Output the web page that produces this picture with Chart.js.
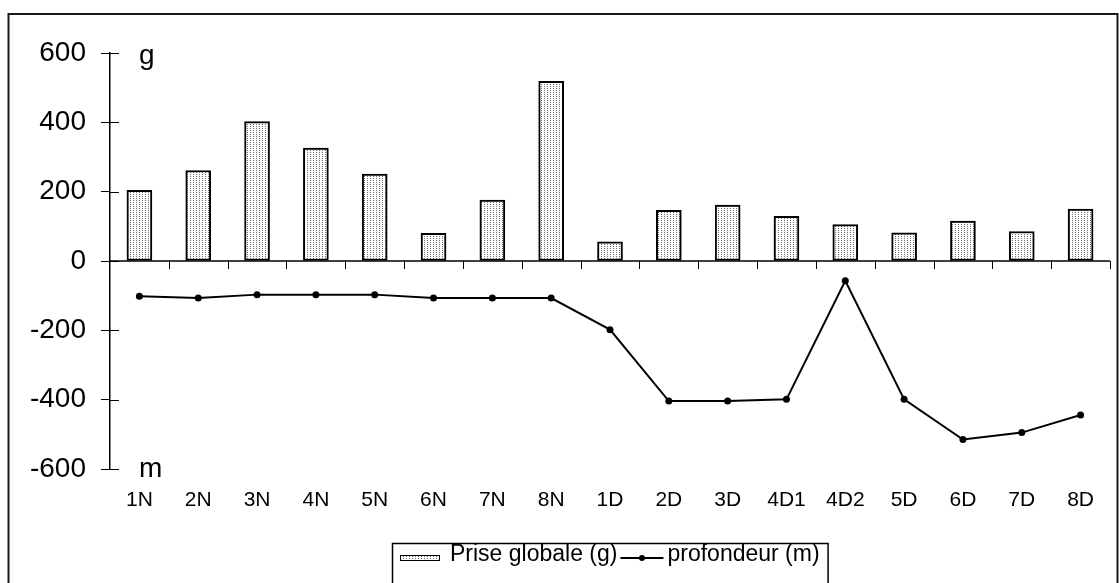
<!DOCTYPE html>
<html>
<head>
<meta charset="utf-8">
<script src="https://cdn.jsdelivr.net/npm/chart.js@4.4.0/dist/chart.umd.min.js"></script>
<style>
  html, body { margin: 0; padding: 0; background: #fff; }
</style>
</head>
<body>
<canvas id="chart" width="1119" height="583"></canvas>
<script>
const stations = ['1N', '2N', '3N', '4N', '5N', '6N', '7N', '8N', '1D', '2D', '3D', '4D1', '4D2', '5D', '6D', '7D', '8D'];
const priseGlobale = [204, 261, 402, 326, 251, 80, 176, 518, 55, 146, 161, 129, 105, 81, 115, 85, 150];
const profondeur = [-102, -107, -97, -97, -97, -107, -107, -107, -198, -404, -404, -399, -57, -399, -515, -495, -444];
const yTicks = [-600, -400, -200, 0, 200, 400, 600];

const canvas = document.getElementById('chart');
const ctx = canvas.getContext('2d');
const FONT = "'Liberation Sans', Arial, sans-serif";

// light dotted fill like the old spreadsheet pattern
function dotPattern() {
  const tile = document.createElement('canvas');
  tile.width = 3;
  tile.height = 2;
  const t = tile.getContext('2d');
  t.fillStyle = '#fff';
  t.fillRect(0, 0, 3, 2);
  t.fillStyle = '#6e6e6e';
  t.fillRect(1, 0, 1, 1);
  return ctx.createPattern(tile, 'repeat');
}
const pattern = dotPattern();

const framePlugin = {
  id: 'frame',
  beforeDraw(chart) {
    const c = chart.ctx;
    c.save();
    c.fillStyle = '#fff';
    c.fillRect(0, 0, chart.width, chart.height);
    c.strokeStyle = '#1a1a1a';
    c.lineWidth = 2;
    c.strokeRect(8.5, 14, chart.width - 10, chart.height + 20);
    c.restore();
  }
};

const axesPlugin = {
  id: 'axesMarks',
  beforeDatasetsDraw(chart) {
    const c = chart.ctx;
    const x = chart.scales.x;
    const y = chart.scales.y;
    const area = chart.chartArea;
    const y0 = y.getPixelForValue(0);
    const step = x.getPixelForValue(1) - x.getPixelForValue(0);
    c.save();
    c.strokeStyle = '#000';
    c.lineWidth = 1.5;
    // zero line
    c.beginPath();
    c.moveTo(area.left, y0);
    c.lineTo(area.right, y0);
    c.stroke();
    // category ticks under the zero line
    c.lineWidth = 1;
    for (let i = 0; i < stations.length; i++) {
      const px = Math.round(x.getPixelForValue(i) + step / 2) + 0.5;
      c.beginPath();
      c.moveTo(px, y0);
      c.lineTo(px, y0 + 8);
      c.stroke();
    }
    // inner half of the y ticks
    yTicks.forEach(v => {
      const py = Math.round(y.getPixelForValue(v)) + 0.5;
      c.beginPath();
      c.moveTo(area.left, py);
      c.lineTo(area.left + 9, py);
      c.stroke();
    });
    c.restore();
  },
  afterDraw(chart) {
    const c = chart.ctx;
    const y = chart.scales.y;
    const area = chart.chartArea;
    c.save();
    c.fillStyle = '#000';
    c.font = '28px ' + FONT;
    c.textBaseline = 'alphabetic';
    c.fillText('g', area.left + 29, y.getPixelForValue(600) + 11);
    c.fillText('m', area.left + 29, y.getPixelForValue(-600) + 8);
    c.restore();
  }
};

const legendPlugin = {
  id: 'boxLegend',
  afterDraw(chart) {
    const c = chart.ctx;
    const barSet = chart.data.datasets.find(d => d.type === 'bar');
    const lineSet = chart.data.datasets.find(d => d.type === 'line');
    const left = 392;
    const top = 543;
    const base = 561;
    c.save();
    c.font = '23px ' + FONT;
    c.textBaseline = 'alphabetic';
    // bar swatch
    let x = left + 8;
    c.fillStyle = pattern;
    c.fillRect(x, base - 6, 40, 6);
    c.strokeStyle = '#000';
    c.lineWidth = 1;
    c.strokeRect(x + 0.5, base - 5.5, 39, 5);
    x += 50;
    c.fillStyle = '#000';
    c.fillText(barSet.label, x, base);
    x += c.measureText(barSet.label).width + 3;
    // line swatch
    c.lineWidth = 2;
    c.beginPath();
    c.moveTo(x, base - 3);
    c.lineTo(x + 43, base - 3);
    c.stroke();
    c.beginPath();
    c.arc(x + 21.5, base - 3, 3, 0, Math.PI * 2);
    c.fill();
    x += 47;
    c.fillText(lineSet.label, x, base);
    x += c.measureText(lineSet.label).width + 8;
    // box
    c.lineWidth = 1.5;
    c.strokeRect(left + 0.5, top + 0.5, x - left, 60);
    c.restore();
  }
};

new Chart(ctx, {
  data: {
    labels: stations,
    datasets: [
      {
        type: 'line',
        label: 'profondeur (m)',
        data: profondeur,
        borderColor: '#000',
        borderWidth: 2,
        backgroundColor: '#000',
        pointRadius: 3.5,
        pointBackgroundColor: '#000',
        pointBorderWidth: 0,
        tension: 0,
        order: 1
      },
      {
        type: 'bar',
        label: 'Prise globale (g)',
        data: priseGlobale,
        backgroundColor: pattern,
        borderColor: '#000',
        borderWidth: 2,
        borderSkipped: false,
        barThickness: 25,
        order: 2
      }
    ]
  },
  options: {
    responsive: false,
    animation: false,
    layout: { padding: { left: 10, right: 9, top: 53, bottom: 0 } },
    plugins: {
      legend: { display: false },
      tooltip: { enabled: false }
    },
    scales: {
      x: {
        offset: true,
        grid: { display: false, drawTicks: false },
        border: { display: false },
        ticks: {
          color: '#000',
          font: { family: FONT, size: 21 },
          padding: 19,
          maxRotation: 0,
          autoSkip: false
        },
        afterFit(scale) { scale.height = 114; }
      },
      y: {
        min: -600,
        max: 600,
        grid: { display: true, drawOnChartArea: false, drawTicks: true, tickLength: 9, color: '#000', lineWidth: 1 },
        border: { display: true, color: '#000', width: 1.5 },
        ticks: {
          stepSize: 200,
          color: '#000',
          font: { family: FONT, size: 28 },
          padding: 15
        },
        afterBuildTicks(scale) { scale.ticks = yTicks.map(v => ({ value: v })); },
        afterFit(scale) { scale.width = 100; }
      }
    }
  },
  plugins: [framePlugin, axesPlugin, legendPlugin]
});
</script>
</body>
</html>
